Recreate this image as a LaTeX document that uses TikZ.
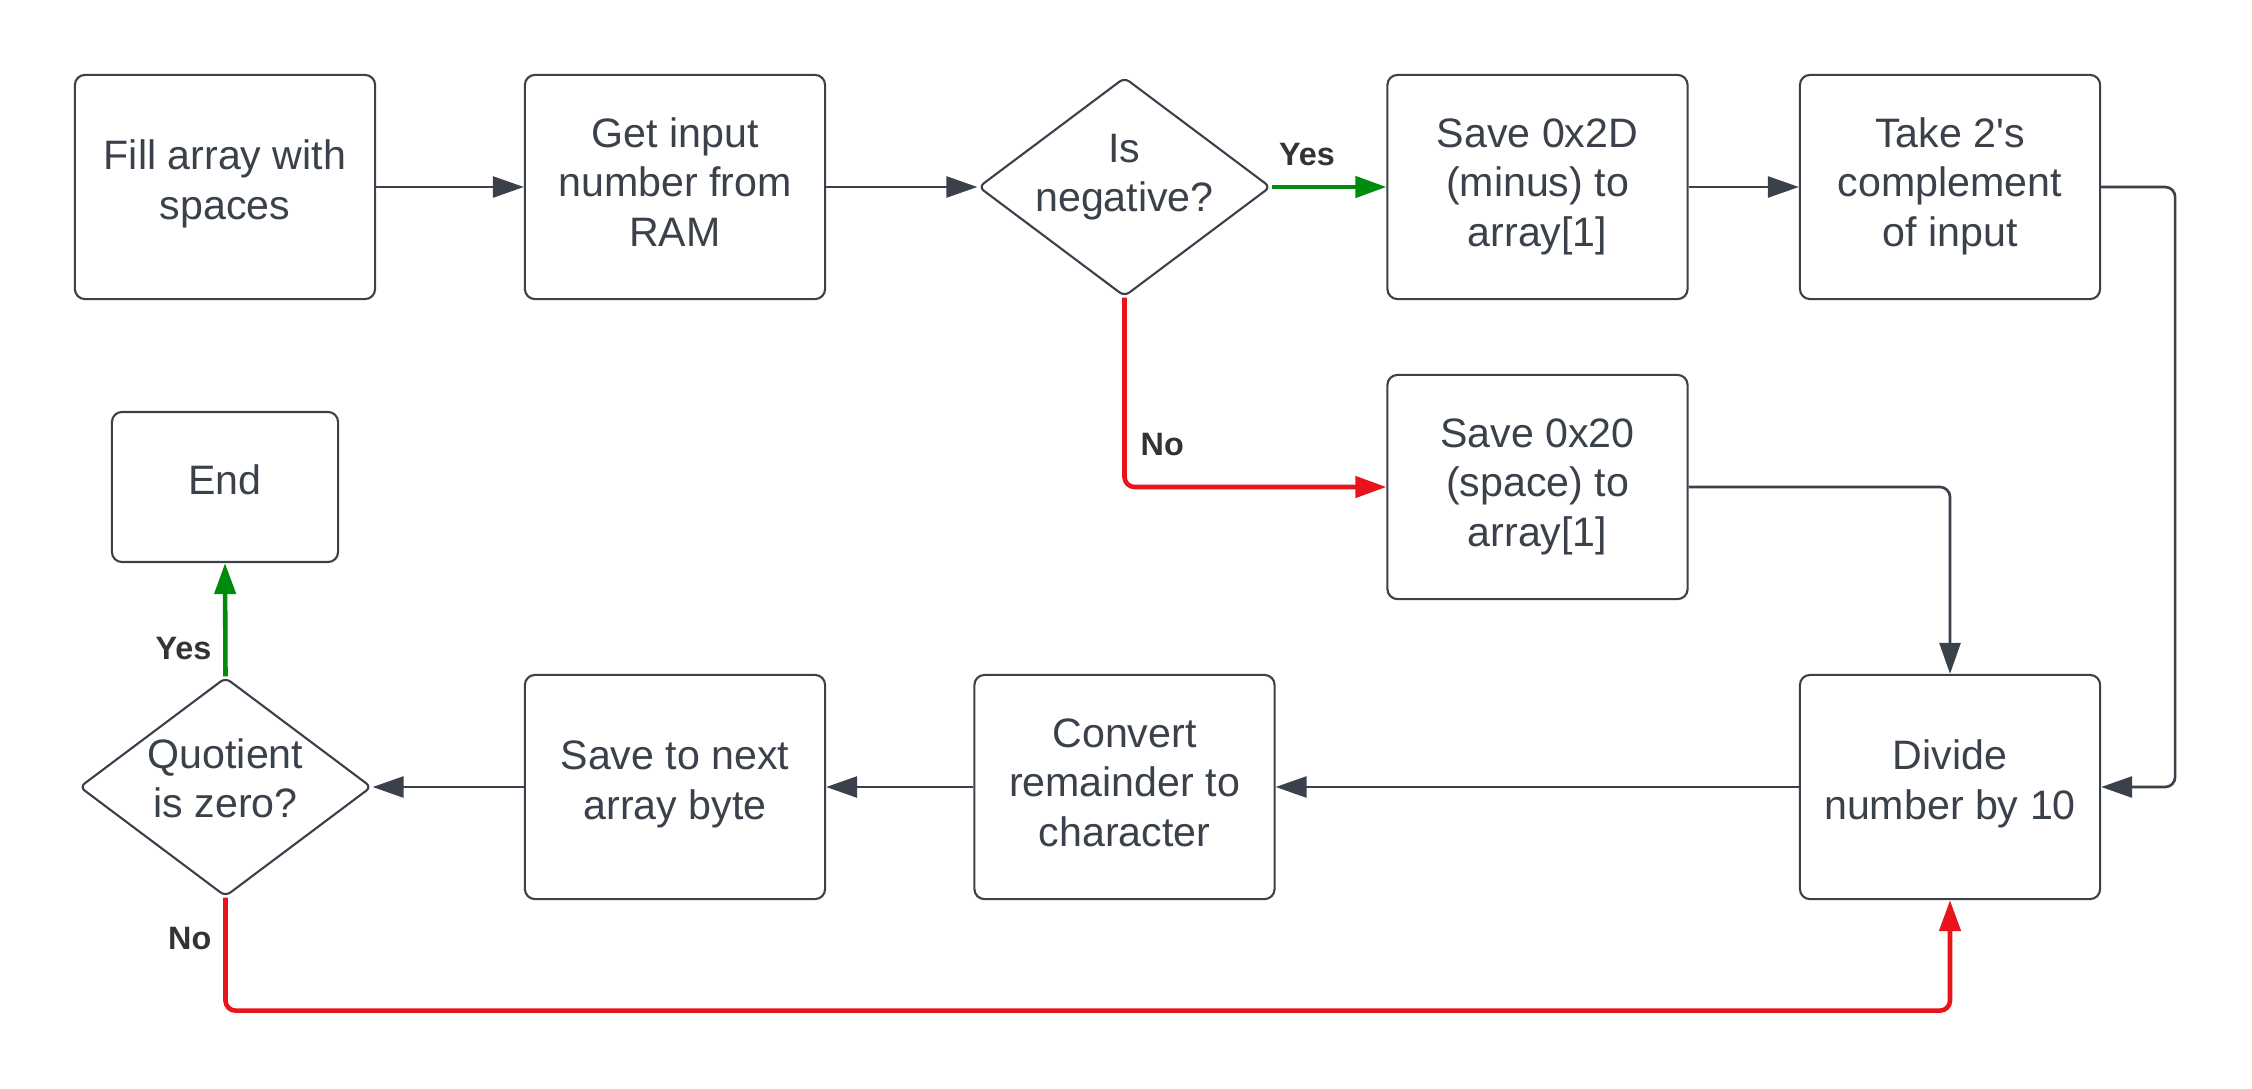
\documentclass[tikz,border=0pt]{standalone}
\usepackage{fontspec}
\setmainfont{Liberation Sans}
\newfontfamily\lsans{Liberation Sans}
\usetikzlibrary{arrows.meta,shapes.geometric}
\definecolor{ln}{HTML}{3A414A}
\definecolor{gr}{HTML}{008A0E}
\definecolor{rd}{HTML}{E8141B}
\definecolor{lbl}{HTML}{333333}
\newcommand\tl[1]{\vrule height0.7\baselineskip depth\dimexpr0.3\baselineskip+#1\relax width0pt}
\begin{document}
\begin{tikzpicture}[x=0.01cm,y=-0.01cm,
  txt/.style={text=ln, align=center, font=\lsans\fontsize{11.7}{14.2}\selectfont},
  box/.style={txt, draw=ln, line width=0.6pt, rounded corners=0.1cm,
    minimum width=3cm, minimum height=2.24cm, inner sep=0pt},
  dec/.style={txt, draw=ln, line width=0.6pt, diamond, aspect=1.335,
    minimum width=2.92cm, minimum height=2.19cm, inner sep=-1cm, rounded corners=0.06cm},
  tip/.style={-{Triangle[length=0.31cm,width=0.21cm]}},
  conn/.style={draw=ln, line width=0.75pt, tip},
  yesln/.style={draw=gr, line width=1.3pt, tip},
  noln/.style={draw=rd, line width=1.3pt, tip},
  lab/.style={text=lbl, font=\lsans\bfseries\fontsize{9.2}{11}\selectfont, inner sep=0pt}]
\useasboundingbox[fill=white] (0,0) rectangle (2252,1088);

\node[box] (fill) at (225,187) {\strut Fill array with\\spaces\tl{0.05cm}};
\node[box] (get) at (675,187) {\strut Get input\\number from\\RAM\strut};
\node[dec] (neg) at (1124.5,187) {\strut Is\\negative?\tl{0.2cm}};
\node[box] (s2d) at (1537.5,187) {\strut Save 0x2D\\(minus) to\\array[1]\strut};
\node[box] (tc) at (1950,187) {\strut Take 2's\\complement\\of input\strut};
\node[box] (s20) at (1537.5,487) {\strut Save 0x20\\(space) to\\array[1]\strut};
\node[box, minimum width=2.26cm, minimum height=1.5cm] (end) at (225,487) {\strut End\tl{0.04cm}};
\node[dec] (quot) at (225.5,787) {\strut Quotient\\is zero?\tl{0.08cm}};
\node[box] (snext) at (675,787) {\strut Save to next\\array byte\tl{0.05cm}};
\node[box] (conv) at (1124.5,787) {\strut Convert\\remainder to\\character\strut};
\node[box] (div) at (1950,787) {\strut Divide\\number by 10\tl{0.05cm}};

\draw[conn] (fill) -- (get);
\draw[conn] (get) -- (neg);
\draw[yesln] (neg.east) -- (s2d.west);
\draw[conn] (s2d) -- (tc);
\draw[conn, rounded corners=0.1cm] (tc.east) -- ++(74,0) |- (div.east);
\draw[noln, rounded corners=0.1cm] (neg.south) |- (s20.west);
\draw[conn, rounded corners=0.1cm] (s20.east) -| (div.north);
\draw[conn] (div) -- (conv);
\draw[conn] (conv) -- (snext);
\draw[conn] (snext) -- (quot);
\draw[yesln] (quot.north) -- (end.south);
\draw[noln, rounded corners=0.1cm] (quot.south) -- ++(0,113) -| (div.south);

\node[lab] (yes1) at (1307,155) {Yes};
\node[lab, anchor=west] (no1) at (1140,445) {No};
\node[lab, anchor=east] (yes2) at (212,649) {Yes};
\node[lab, anchor=east] (no2) at (212,939) {No};
\end{tikzpicture}
\end{document}
